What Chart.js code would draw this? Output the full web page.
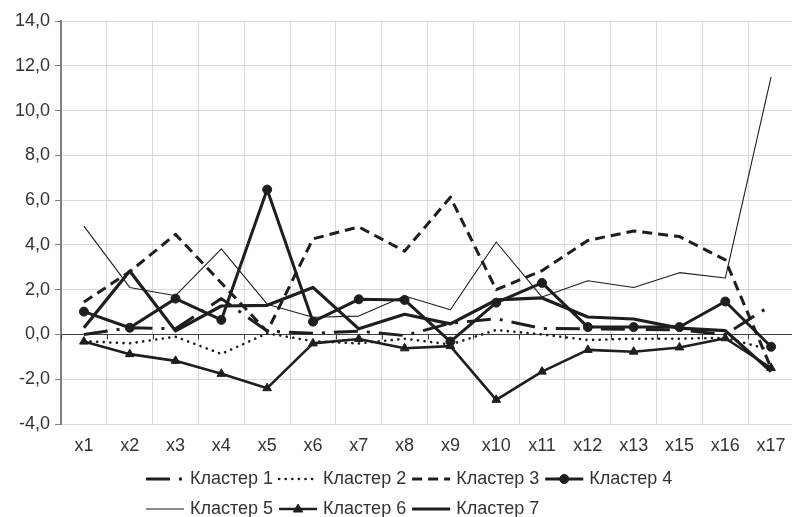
<!DOCTYPE html>
<html><head><meta charset="utf-8">
<script src="https://cdn.jsdelivr.net/npm/chart.js@4.4.1/dist/chart.umd.min.js"></script>
<style>
html,body{margin:0;padding:0;overflow:hidden;background:#fff;width:792px;height:517px}
#wrap{position:absolute;left:0;top:0;width:800px;height:517px}
</style>
</head><body><div id="wrap"><canvas id="c" width="800" height="517"></canvas></div>
<script>
const categories = ['x1','x2','x3','x4','x5','x6','x7','x8','x9','x10','x11','x12','x13','x15','x16','x17'];
const seriesNames = ['Кластер 1','Кластер 2','Кластер 3','Кластер 4','Кластер 5','Кластер 6','Кластер 7'];
const cluster1 = [0.0, 0.3, 0.25, 1.6, 0.15, 0.05, 0.15, -0.05, 0.5, 0.7, 0.27, 0.25, 0.23, 0.2, 0.0, 1.3];
const cluster2 = [-0.3, -0.4, -0.1, -0.87, 0.05, -0.3, -0.4, -0.19, -0.45, 0.2, 0.0, -0.25, -0.19, -0.19, -0.15, -0.7];
const cluster3 = [1.45, 2.8, 4.47, 2.3, 0.13, 4.27, 4.8, 3.72, 6.13, 2.0, 2.85, 4.2, 4.62, 4.37, 3.33, -1.5];
const cluster4 = [1.02, 0.3, 1.6, 0.65, 6.47, 0.57, 1.57, 1.54, -0.32, 1.42, 2.3, 0.33, 0.33, 0.33, 1.47, -0.55];
const cluster5 = [4.84, 2.1, 1.73, 3.82, 1.35, 0.77, 0.82, 1.72, 1.1, 4.13, 1.67, 2.4, 2.1, 2.76, 2.52, 11.5];
const cluster6 = [-0.32, -0.88, -1.18, -1.76, -2.4, -0.4, -0.2, -0.62, -0.52, -2.92, -1.66, -0.69, -0.77, -0.58, -0.17, -1.5];
const cluster7 = [0.3, 2.83, 0.16, 1.27, 1.3, 2.1, 0.25, 0.9, 0.47, 1.54, 1.63, 0.78, 0.69, 0.28, 0.17, -1.66];
const yTicks = [-4, -2, 0, 2, 4, 6, 8, 10, 12, 14];

const INK = '#1e1e1e';
const TEXT = '#333333';
const FONT = '"Liberation Sans", Arial, sans-serif';
const FSIZE = 18;
const allSeries = [cluster1, cluster2, cluster3, cluster4, cluster5, cluster6, cluster7];
const styles = [
  {borderWidth:3, borderDash:[24,9,3,9]},
  {borderWidth:2.6, borderDash:[0.1,6.5], borderCapStyle:'round'},
  {borderWidth:3, borderDash:[10,6]},
  {borderWidth:3, pointStyle:'circle', pointRadius:4.5},
  {borderWidth:1.1},
  {borderWidth:2.6, pointStyle:'triangle', pointRadius:5},
  {borderWidth:3.2}
];

const datasets = allSeries.map((data, i) => Object.assign({
  label: seriesNames[i],
  data: data,
  borderColor: INK,
  backgroundColor: INK,
  pointBackgroundColor: INK,
  pointBorderColor: INK,
  pointBorderWidth: 1,
  pointRadius: 0,
  pointHoverRadius: 0,
  borderJoinStyle: 'round',
  tension: 0,
  fill: false,
  order: 7 - i
}, styles[i]));

function drawMarker(ctx, style, r, x, y) {
  ctx.save();
  ctx.fillStyle = INK; ctx.strokeStyle = INK; ctx.lineWidth = 1; ctx.setLineDash([]);
  ctx.beginPath();
  if (style === 'circle') {
    ctx.arc(x, y, r, 0, Math.PI * 2);
  } else if (style === 'triangle') {
    ctx.moveTo(x, y - r);
    ctx.lineTo(x + r * 0.95, y + r * 0.6);
    ctx.lineTo(x - r * 0.95, y + r * 0.6);
    ctx.closePath();
  }
  ctx.fill(); ctx.stroke();
  ctx.restore();
}

const legendPlugin = {
  id: 'customLegend',
  afterDraw(chart) {
    const ctx = chart.ctx;
    const rows = [[0,1,2,3],[4,5,6]];
    const rowY = [479, 509];
    ctx.save();
    ctx.font = FSIZE + 'px ' + FONT;
    ctx.textBaseline = 'middle';
    ctx.textAlign = 'left';
    rows.forEach((row, r) => {
      let x = 146;
      const y = rowY[r];
      row.forEach(i => {
        const ds = chart.data.datasets[i];
        ctx.save();
        ctx.strokeStyle = INK;
        ctx.lineWidth = ds.borderWidth;
        ctx.setLineDash(ds.borderDash || []);
        ctx.lineCap = ds.borderCapStyle || 'butt';
        ctx.beginPath(); ctx.moveTo(x, y); ctx.lineTo(x + 38, y); ctx.stroke();
        ctx.restore();
        if (ds.pointRadius > 0) drawMarker(ctx, ds.pointStyle, ds.pointRadius, x + 19, y);
        ctx.fillStyle = TEXT;
        ctx.fillText(ds.label, x + 44, y);
        x += 44 + ctx.measureText(ds.label).width + 6;
      });
    });
    ctx.restore();
  }
};

const zeroTicksPlugin = {
  id: 'zeroTicks',
  beforeDatasetsDraw(chart) {
    const xs = chart.scales.x, ys = chart.scales.y;
    const y0 = ys.getPixelForValue(0);
    const ctx = chart.ctx;
    ctx.save();
    ctx.strokeStyle = '#404040'; ctx.lineWidth = 1;
    ctx.beginPath();
    for (let i = 0; i <= categories.length; i++) {
      const px = Math.round(xs.getPixelForValue(i - 0.5)) + 0.5;
      ctx.moveTo(px, y0); ctx.lineTo(px, y0 + 5);
    }
    ctx.stroke();
    ctx.restore();
  }
};

new Chart(document.getElementById('c'), {
  type: 'line',
  data: { labels: categories, datasets: datasets },
  options: {
    responsive: false,
    animation: false,
    devicePixelRatio: 1,
    layout: { padding: { top: 21, right: 3, left: 0, bottom: 0 } },
    plugins: { legend: { display: false }, tooltip: { enabled: false } },
    scales: {
      x: {
        type: 'category',
        offset: true,
        grid: { offset: true, color: '#d9d9d9', lineWidth: 1, drawTicks: false },
        border: { display: false },
        ticks: { color: TEXT, font: { family: FONT, size: FSIZE }, padding: 11, maxRotation: 0, autoSkip: false },
        afterFit(s) { s.height = 93; }
      },
      y: {
        min: -4, max: 14,
        afterBuildTicks(s) { s.ticks = yTicks.map(v => ({ value: v })); },
        grid: {
          color: c => (c.tick && c.tick.value === 0) ? '#404040' : '#d9d9d9',
          lineWidth: 1, tickLength: 6, tickColor: '#808080'
        },
        border: { display: true, color: '#808080', width: 2 },
        ticks: { color: TEXT, font: { family: FONT, size: FSIZE }, padding: 5,
                 callback: v => v.toFixed(1).replace('.', ',') },
        afterFit(s) { s.width = 61; }
      }
    }
  },
  plugins: [zeroTicksPlugin, legendPlugin]
});
</script>
</body></html>
